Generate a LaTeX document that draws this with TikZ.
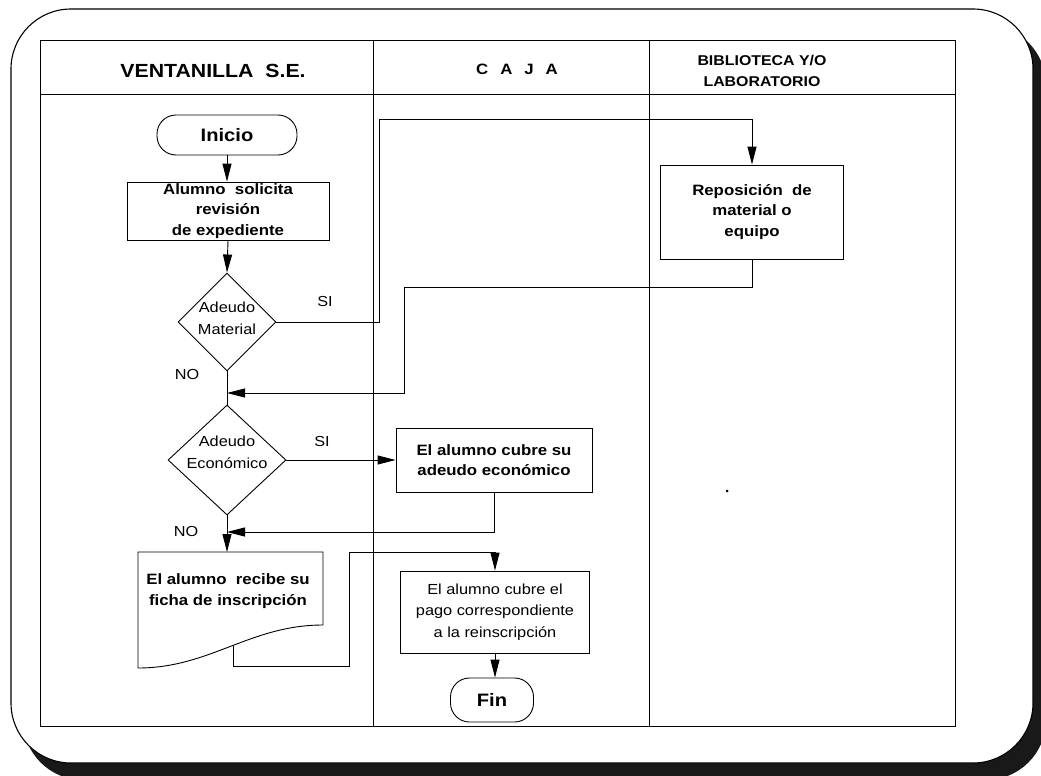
\documentclass[tikz,border=0pt]{standalone}
\usepackage{fontspec}
\setmainfont{Liberation Sans}[FakeStretch=1.12]
\usetikzlibrary{arrows.meta,shapes.geometric}

\begin{document}
\begin{tikzpicture}[x=1pt,y=-1pt,
  rule/.style={line width=0.9pt},
  flow/.style={draw, line width=0.9pt, align=center, inner sep=0pt},
  proc/.style={flow, rectangle},
  boldtxt/.style={font=\fontsize{15}{20.5}\selectfont\bfseries},
  plaintxt/.style={font=\fontsize{14.6}{21.5}\selectfont},
  term/.style={flow, rounded corners=19pt, font=\fontsize{18}{20}\selectfont\bfseries},
  dia/.style={flow, diamond},
  diatxt/.style={align=center, inner sep=0pt, font=\fontsize{14.6}{22}\selectfont},
  conn/.style={line width=0.9pt},
  arr/.style={conn, -{Triangle[length=18pt,width=9pt]}},
  tag/.style={inner sep=0pt, font=\fontsize{14.5}{16}\selectfont},
  head/.style={align=center, inner sep=0pt}
]
\useasboundingbox (0,0) rectangle (1041,776);

% rounded page frame with its drop shadow
\begin{scope}
  \clip (0,0) rectangle (1041,776);
  \fill[black!90, rounded corners=60pt] (23,25) rectangle (1046,780);
  \draw[fill=white, line width=1.1pt, rounded corners=60pt] (11,9) rectangle (1033,763);
\end{scope}

% swimlane table
\draw[rule] (40,40) rectangle (955,726);
\draw[rule] (40,94) -- (955,94);
\draw[rule] (373,40) -- (373,726);
\draw[rule] (649,40) -- (649,726);

\node[head, font=\fontsize{19}{22}\selectfont\bfseries] (h1) at (213,71) {VENTANILLA\ \ S.E.};
\node[head, font=\fontsize{15}{18}\selectfont\bfseries] (h2) at (517,69) {C\hspace{12pt}A\hspace{12pt}J\hspace{12pt}A};
\node[head, font=\fontsize{14.2}{21}\selectfont\bfseries] (h3) at (762,71) {BIBLIOTECA Y/O\\LABORATORIO};

% process steps
\node[term, minimum width=140pt, minimum height=40pt] (inicio) at (227,135) {Inicio};
\node[proc, boldtxt, minimum width=202pt, minimum height=58pt] (alumno) at (228,211) {Alumno\ \ solicita\\revisión\\de expediente};

\node[dia, minimum width=98pt, minimum height=98pt] (dmat) at (227,322) {};
\node[diatxt] (dmatT) at ([yshift=4pt]dmat.center) {Adeudo\\Material};

\node[dia, minimum width=118pt, minimum height=110pt] (decon) at (227,460) {};
\node[diatxt] (deconT) at ([yshift=8pt]decon.center) {Adeudo\\Económico};

\node[proc, boldtxt, minimum width=183pt, minimum height=94pt] (repo) at (752,212) {Reposición\ \ de\\material o\\equipo};
\node[proc, boldtxt, minimum width=196pt, minimum height=64pt] (econ) at (494,460) {El alumno cubre su\\adeudo económico};
\node[proc, plaintxt, minimum width=189pt, minimum height=82pt] (pago) at (495,612) {El alumno cubre el\\pago correspondiente\\a la reinscripción};
\node[term, minimum width=83pt, minimum height=44pt] (fin) at (492,700) {Fin};

% document symbol
\coordinate (dtl) at (138,552);
\coordinate (dtr) at (323,552);
\coordinate (dtop) at (227,552);
\coordinate (dwave) at (233,646);
\draw[conn] (dtl) -- (dtr) -- (323,625) .. controls (250,625) and (210,668) .. (138,668) -- cycle;
\node[boldtxt, align=center, inner sep=0pt] (doc) at (228,591) {El alumno\ \ recibe su\\ficha de inscripción};

% junctions on the main line
\coordinate (j1) at (227,393);
\coordinate (j2) at (227,532);

% connectors
\draw[arr] (inicio.south) -- (inicio.south |- alumno.north);
\draw[arr] (alumno.south) -- (dmat.north);
\draw[arr] (dmat.east) -| (379,119) -| (repo.north);
\draw[arr] (repo.south) |- (404,287) |- (j1);
\draw[conn] (dmat.south) -- (decon.north);
\draw[arr] (decon.east) -- (econ.west);
\draw[arr] (econ.south) |- (j2);
\draw[arr] (decon.south) -- (dtop);
\draw[arr] (dwave) -- (233,666) -| (349,552) -| (pago.north);
\draw[arr] (pago.south) -- (pago.south |- fin.north);

% branch labels
\node[tag] (si1) at (325,302) {SI};
\node[tag] (no1) at (187,375) {NO};
\node[tag] (si2) at (322,442) {SI};
\node[tag] (no2) at (186,532) {NO};

\fill (727,491) circle (1.5pt);
\end{tikzpicture}
\end{document}
